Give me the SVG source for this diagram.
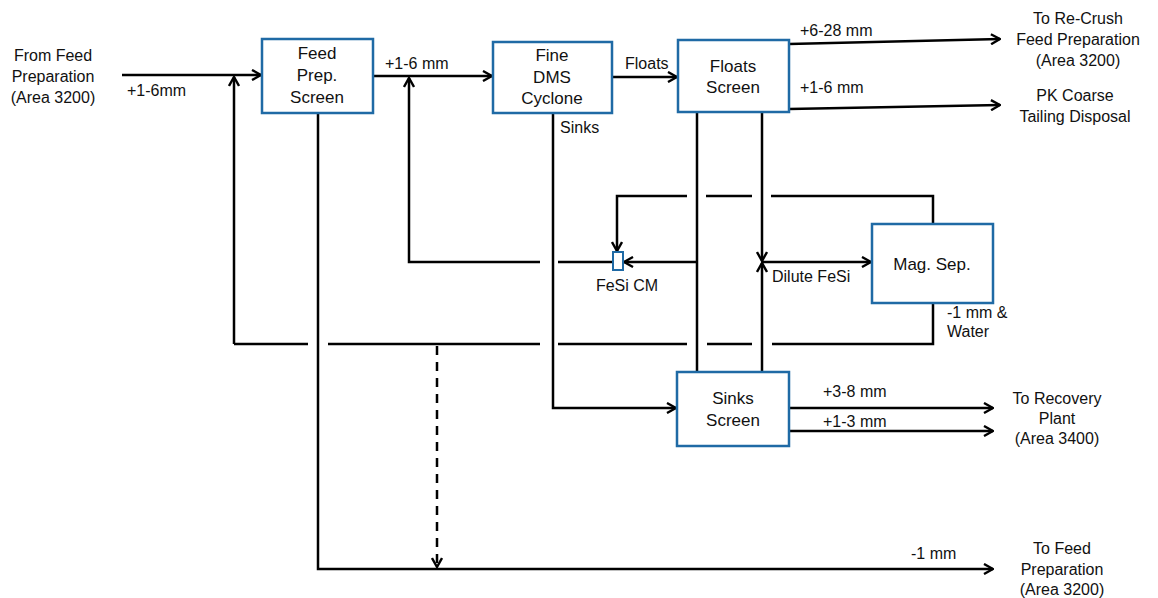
<svg xmlns="http://www.w3.org/2000/svg" width="1158" height="598" viewBox="0 0 1158 598">
<style>
.box{fill:#fff;stroke:#1f6aa5;stroke-width:2.5}
.ln{fill:none;stroke:#000;stroke-width:2.5}
.ar{marker-end:url(#arr)}
.dash{stroke-dasharray:9 7}
text{font-family:"Liberation Sans",Arial,sans-serif;fill:#111}
.bt{font-size:17px;text-anchor:middle}
.lt{font-size:16px}
.et{font-size:16px;text-anchor:middle}
</style>
<defs>
<marker id="arr" viewBox="0 0 12 12" refX="11" refY="6" markerWidth="12" markerHeight="12" markerUnits="userSpaceOnUse" orient="auto">
<path d="M2,1 L11,6 L2,11" fill="none" stroke="#000" stroke-width="2.4"/>
</marker>
</defs>
<g id="connectors">
<line class="ln ar" x1="122" y1="75" x2="261" y2="75"/>
<line class="ln ar" x1="373" y1="76" x2="492" y2="76"/>
<line class="ln ar" x1="612" y1="77" x2="677" y2="77"/>
<line class="ln ar" x1="789" y1="44" x2="1000" y2="39"/>
<line class="ln ar" x1="789" y1="109" x2="1000" y2="105"/>
<polyline class="ln ar" points="234,344 234,77"/>
<line class="ln" x1="234" y1="344" x2="308" y2="344"/>
<line class="ln" x1="328" y1="344" x2="540" y2="344"/>
<line class="ln" x1="558" y1="344" x2="687" y2="344"/>
<line class="ln" x1="707" y1="344" x2="752" y2="344"/>
<polyline class="ln" points="772,344 933,344 933,303"/>
<polyline class="ln" points="933,224 933,196 771,196"/>
<line class="ln" x1="752" y1="196" x2="706" y2="196"/>
<polyline class="ln ar" points="687,196 617,196 617,251"/>
<polyline class="ln ar" points="540,262 409,262 409,78"/>
<line class="ln" x1="558" y1="262" x2="613" y2="262"/>
<line class="ln ar" x1="697" y1="262" x2="624" y2="262"/>
<line class="ln" x1="697" y1="112" x2="697" y2="372"/>
<line class="ln ar" x1="762" y1="112" x2="762" y2="261"/>
<line class="ln ar" x1="762" y1="372" x2="762" y2="263"/>
<line class="ln ar" x1="762" y1="262" x2="871" y2="262"/>
<polyline class="ln ar" points="553,113 553,408 676,408"/>
<polyline class="ln ar" points="318,113 318,569 993,569"/>
<line class="ln dash ar" x1="437" y1="346" x2="437" y2="567"/>
<line class="ln ar" x1="789" y1="408" x2="993" y2="408"/>
<line class="ln ar" x1="789" y1="431" x2="993" y2="431"/>
</g>
<g id="feed-prep-screen">
<rect class="box" x="262" y="39" width="111" height="74"/>
<text class="bt" x="317" y="59">Feed</text>
<text class="bt" x="317" y="81">Prep.</text>
<text class="bt" x="317" y="103">Screen</text>
</g>
<g id="fine-dms-cyclone">
<rect class="box" x="493" y="42" width="119" height="71"/>
<text class="bt" x="552" y="61">Fine</text>
<text class="bt" x="552" y="83">DMS</text>
<text class="bt" x="552" y="104">Cyclone</text>
</g>
<g id="floats-screen">
<rect class="box" x="678" y="40" width="111" height="72"/>
<text class="bt" x="733" y="72">Floats</text>
<text class="bt" x="733" y="93">Screen</text>
</g>
<g id="mag-sep">
<rect class="box" x="872" y="224" width="121" height="79"/>
<text class="bt" x="932" y="270">Mag. Sep.</text>
</g>
<g id="sinks-screen">
<rect class="box" x="677" y="372" width="112" height="74"/>
<text class="bt" x="733" y="404">Sinks</text>
<text class="bt" x="733" y="426">Screen</text>
</g>
<g id="fesi-cm">
<rect x="613" y="252" width="10" height="18" fill="#fff" stroke="#1f6aa5" stroke-width="2"/>
<text class="lt" x="627" y="291" text-anchor="middle">FeSi CM</text>
</g>
<g id="labels">
<text class="et" x="53" y="61">From Feed</text>
<text class="et" x="53" y="82">Preparation</text>
<text class="et" x="53" y="103">(Area 3200)</text>
<text class="lt" x="127" y="96">+1-6mm</text>
<text class="lt" x="385" y="69">+1-6 mm</text>
<text class="lt" x="625" y="69">Floats</text>
<text class="lt" x="560" y="133">Sinks</text>
<text class="lt" x="800" y="36">+6-28 mm</text>
<text class="lt" x="800" y="93">+1-6 mm</text>
<text class="et" x="1078" y="24">To Re-Crush</text>
<text class="et" x="1078" y="45">Feed Preparation</text>
<text class="et" x="1078" y="66">(Area 3200)</text>
<text class="et" x="1075" y="101">PK Coarse</text>
<text class="et" x="1075" y="122">Tailing Disposal</text>
<text class="lt" x="772" y="282">Dilute FeSi</text>
<text class="lt" x="947" y="318">-1 mm &amp;</text>
<text class="lt" x="947" y="337">Water</text>
<text class="lt" x="823" y="397">+3-8 mm</text>
<text class="lt" x="823" y="427">+1-3 mm</text>
<text class="et" x="1057" y="404">To Recovery</text>
<text class="et" x="1057" y="424">Plant</text>
<text class="et" x="1057" y="444">(Area 3400)</text>
<text class="lt" x="911" y="559">-1 mm</text>
<text class="et" x="1062" y="554">To Feed</text>
<text class="et" x="1062" y="575">Preparation</text>
<text class="et" x="1062" y="595">(Area 3200)</text>
</g>
</svg>
